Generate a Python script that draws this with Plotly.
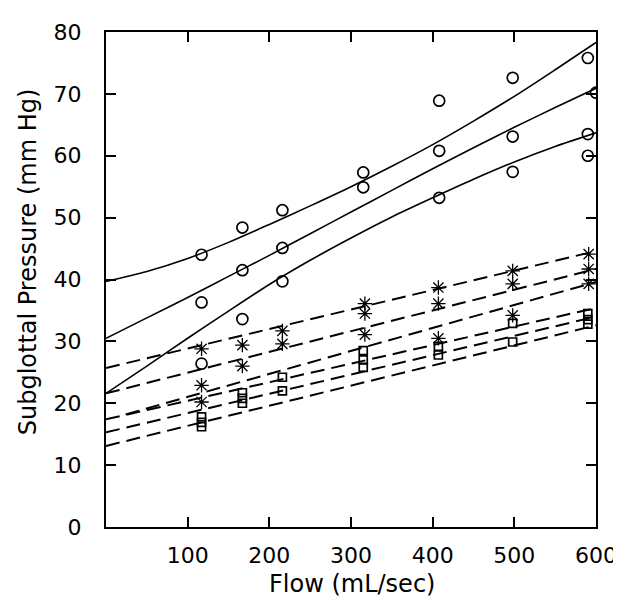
import plotly.graph_objects as go

# ---- data ----
# open circles (x, y)
circle_x = [117, 117, 117, 167, 167, 167, 216, 216, 216, 315, 315,
            408, 408, 408, 498, 498, 498, 590, 590, 590, 600]
circle_y = [44.0, 36.3, 26.4, 48.4, 41.5, 33.6, 51.2, 45.1, 39.7, 57.3, 54.9,
            68.9, 60.8, 53.2, 72.6, 63.1, 57.4, 75.8, 63.5, 60.0, 70.2]

# asterisks
star_x = [117, 117, 117, 167, 167, 216, 216, 317, 317, 317,
          407, 407, 407, 498, 498, 498, 591, 591, 591]
star_y = [28.8, 22.9, 20.2, 29.4, 26.0, 31.7, 29.6, 36.1, 34.5, 31.1,
          38.7, 36.1, 30.5, 41.4, 39.3, 34.2, 44.1, 41.7, 39.3]

# open squares
square_x = [117, 117, 117, 167, 167, 167, 216, 216, 315, 315, 315,
            407, 407, 498, 498, 590, 590, 590]
square_y = [17.8, 16.9, 16.2, 21.7, 20.8, 20.0, 24.2, 22.0, 28.5, 27.0, 25.8,
            29.2, 27.8, 32.9, 29.9, 34.5, 33.5, 32.8]

# solid fitted curves (circles)
fit_x = [0, 50, 100, 150, 200, 250, 300, 350, 400, 450, 500, 550, 600]
solid_top = [39.7, 41.3, 43.4, 46.0, 48.9, 51.9, 55.0, 58.3, 61.8, 65.6, 69.6, 73.9, 78.3]
solid_mid = [30.5, 33.8, 37.1, 40.5, 43.9, 47.4, 50.9, 54.4, 57.9, 61.3, 64.6, 67.8, 70.9]
solid_low = [21.6, 26.0, 30.5, 34.9, 39.2, 43.1, 46.7, 50.1, 53.2, 56.2, 59.0, 61.5, 63.7]

# dashed regression lines (start/end x and y)
dash_x = [[0, 600], [0, 600], [24, 600], [0, 600], [0, 600], [0, 600]]
dash_y = [[25.7, 44.6], [21.6, 41.7], [18.2, 39.6], [17.4, 35.4], [15.3, 34.0], [13.1, 32.6]]

x_ticks = [100, 200, 300, 400, 500, 600]
y_ticks = [0, 10, 20, 30, 40, 50, 60, 70, 80]

FONT = "DejaVu Sans"

fig = go.Figure()

for xs, ys in zip(dash_x, dash_y):
    fig.add_trace(go.Scatter(x=xs, y=ys, mode="lines",
                             line=dict(color="black", width=2, dash="14px,7px"),
                             showlegend=False, hoverinfo="skip"))

for ys in (solid_top, solid_mid, solid_low):
    fig.add_trace(go.Scatter(x=fit_x, y=ys, mode="lines",
                             line=dict(color="black", width=1.6, shape="spline", smoothing=0.8),
                             showlegend=False, hoverinfo="skip"))

fig.add_trace(go.Scatter(x=circle_x, y=circle_y, mode="markers",
                         marker=dict(symbol="circle-open", size=11, color="black",
                                     line=dict(width=1.7, color="black")),
                         showlegend=False))
fig.add_trace(go.Scatter(x=star_x, y=star_y, mode="markers",
                         marker=dict(symbol="asterisk-open", size=12, color="black",
                                     line=dict(width=1.3, color="black")),
                         showlegend=False))
fig.add_trace(go.Scatter(x=square_x, y=square_y, mode="markers",
                         marker=dict(symbol="square-open", size=8, color="black",
                                     line=dict(width=1.7, color="black")),
                         showlegend=False))

axis_common = dict(showline=True, linecolor="black", linewidth=2, mirror="ticks",
                   ticks="inside", ticklen=10, tickwidth=2, tickcolor="black",
                   showgrid=False, zeroline=False,
                   tickfont=dict(family=FONT, size=22, color="black"))

fig.update_xaxes(range=[0, 600], tickmode="array", tickvals=x_ticks,
                 ticklabelstandoff=8, **axis_common)
fig.update_yaxes(range=[0, 80], tickmode="array", tickvals=y_ticks,
                 ticklabelstandoff=18, **axis_common)

fig.add_annotation(text="Flow (mL/sec)", xref="paper", yref="paper",
                   x=0.503, y=-0.116, xanchor="center", yanchor="middle",
                   showarrow=False, font=dict(family=FONT, size=24, color="black"))
fig.add_annotation(text="Subglottal Pressure (mm Hg)", xref="paper", yref="paper",
                   x=-0.16, y=0.536, xanchor="center", yanchor="middle", textangle=-90,
                   showarrow=False, font=dict(family=FONT, size=24, color="black"))

fig.update_layout(width=621, height=599,
                  margin=dict(l=98, r=22, t=19, b=80),
                  paper_bgcolor="white", plot_bgcolor="white")

fig.write_html("out.html")
